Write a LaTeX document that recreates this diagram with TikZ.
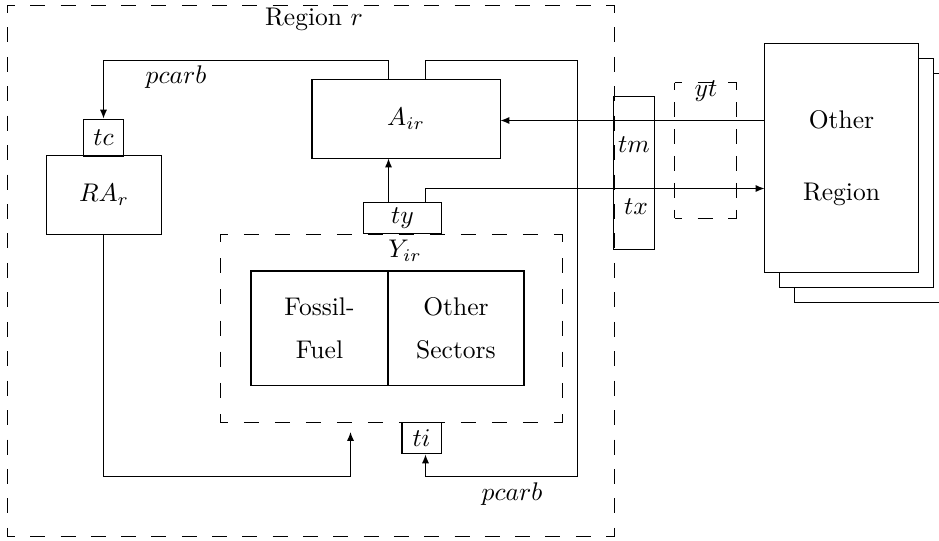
\documentclass[tikz,border=0pt]{standalone}
\usepackage{tikz}
\usetikzlibrary{arrows.meta,positioning,calc}

\begin{document}
\begin{tikzpicture}[x=0.392pt, y=-0.392pt, every node/.style={inner sep=0pt},
    box/.style={draw},
    dside/.style={draw, dash pattern=on 5.88pt off #1, dash phase=2.94pt},
    flow/.style={-{Latex[length=3.5pt,width=2.8pt]}}]
  \useasboundingbox (0,0) rectangle (939,540);
  % region r
  \node[minimum width=237.6pt, minimum height=207.8pt] (reg) at (311,271) {};
  \draw[dside=6.0pt] (reg.north west) -- (reg.north east) (reg.south west) -- (reg.south east);
  \draw[dside=5.66pt] (reg.north west) -- (reg.south west) (reg.north east) -- (reg.south east);
  \node[anchor=north] (regl) at (314,8) {Region $r$};
  \node[box, minimum width=73.7pt, minimum height=30.6pt] (air) at (406,119) {$A_{ir}$};
  \node[box, minimum width=44.7pt, minimum height=30.6pt] (ra) at (104,195) {$RA_r$};
  \node[box, minimum width=15.3pt, minimum height=14.5pt] (tc) at (103.5,137.5) {$tc$};
  \node[box, minimum width=30.2pt, minimum height=11.8pt] (ty) at (402.5,218) {$ty$};
  \node[minimum width=133.7pt, minimum height=73.3pt] (yir) at (391.5,328.5) {};
  \draw[dside=6.27pt] (yir.north west) -- (yir.north east) (yir.south west) -- (yir.south east);
  \draw[dside=6.34pt] (yir.north west) -- (yir.south west) (yir.north east) -- (yir.south east);
  \node (yirl) at (405,251) {$Y_{ir}$};
  \node[box, minimum width=53.7pt, minimum height=44.7pt, align=center] (fossil) at (319.5,328) {Fossil-\\[5pt]Fuel};
  \node[box, minimum width=53.3pt, minimum height=44.7pt, align=center] (osec) at (456,328) {Other\\[5pt]Sectors};
  \node[box, minimum width=15.3pt, minimum height=12.5pt] (ti) at (421.5,438) {$ti$};
  % trade
  \node[box, minimum width=15.7pt, minimum height=59.6pt] (tmx) at (634,173) {};
  \node (tm) at (634,145) {$tm$};
  \node (tx) at (636,207) {$tx$};
  \node[minimum width=23.9pt, minimum height=52.9pt] (yt) at (705.5,150.5) {};
  \draw[dside=6.08pt] (yt.north west) -- (yt.north east) (yt.south west) -- (yt.south east);
  \draw[dside=4.7pt] (yt.north west) -- (yt.south west) (yt.north east) -- (yt.south east);
  \node (ytl) at (706,91) {$yt$};
  % other regions
  \foreach \s in {30,15}{\node[box, fill=white, minimum width=60pt, minimum height=89.4pt] at (841.5+\s,158+\s) {};}
  \node[box, fill=white, minimum width=60pt, minimum height=89.4pt, align=center] (oreg) at (841.5,158) {Other\\[16pt]Region};
  % flows
  \coordinate (xa) at (388.5,0);
  \coordinate (xb) at (425.5,0);
  \coordinate (loopL) at (103.5,60.5);
  \coordinate (loopR) at (577.5,60.5);
  \coordinate (loopB) at (425.5,476.5);
  \coordinate (fb) at (350.5,432);
  \coordinate (yx) at (0,188.5);
  \coordinate (ym) at (0,120.5);
  \draw[flow] (air.north -| xa) |- (loopL) -- (tc.north);
  \draw[flow] (air.north -| xb) |- (loopR) |- (loopB) -- (ti.south -| loopB);
  \draw[flow] (ty.north -| xa) -- (air.south -| xa);
  \draw[flow] (ty.north -| xb) |- (oreg.west |- yx);
  \draw[flow] (oreg.west |- ym) -- (air.east |- ym);
  \draw[flow] (ra.south -| loopL) |- (fb |- loopB) -- (fb);
  \node (pc1) at (176,77) {$pcarb$};
  \node (pc2) at (512,494) {$pcarb$};
\end{tikzpicture}
\end{document}
